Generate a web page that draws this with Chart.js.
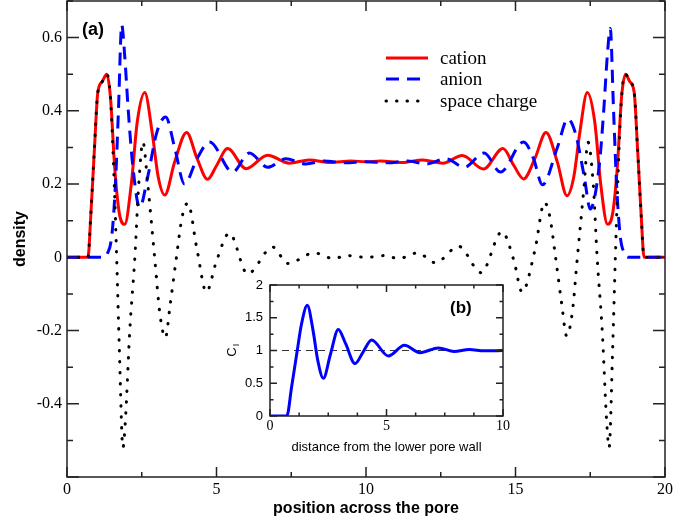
<!DOCTYPE html>
<html lang="en">
<head>
<meta charset="UTF-8" />
<title>Ion densities across the pore</title>
<style>
  body { margin: 0; background: #fff; }
  #wrap { position: relative; width: 673px; height: 525px; }
  #main { position: absolute; left: 0; top: 0; }
  #inset { position: absolute; left: 215px; top: 278px; }
</style>
</head>
<body>
<div id="wrap">
  <canvas id="main" width="673" height="525"></canvas>
  <canvas id="inset" width="300" height="182"></canvas>
</div>

<script src="https://cdn.jsdelivr.net/npm/chart.js"></script>
<script>
// panel (a): densities across the pore
const cationX = [0, 0.7, 0.8, 0.92, 1.03, 1.18, 1.33, 1.45, 1.6, 1.75, 1.93, 2.15, 2.35, 2.6, 2.85, 3.05, 3.27, 3.6, 4.0, 4.35, 4.7, 5.0, 5.37, 5.99, 6.71, 7.43, 8.1, 8.8, 9.5, 10,
                 10.5, 11.2, 11.9, 12.57, 13.22, 13.93, 14.58, 14.95, 15.27, 15.65, 16.02, 16.4, 16.72, 16.95, 17.15, 17.4, 17.65, 17.85, 18.08, 18.25, 18.4, 18.55, 18.68, 18.82, 18.97, 19.08, 19.2, 19.3, 20];
const cationY = [0, 0, 0.12, 0.3, 0.45, 0.48, 0.5, 0.44, 0.24, 0.12, 0.09, 0.2, 0.37, 0.45, 0.34, 0.22, 0.17, 0.26, 0.341, 0.27, 0.213, 0.25, 0.297, 0.242, 0.279, 0.257, 0.266, 0.259, 0.263, 0.261,
                 0.263, 0.259, 0.266, 0.257, 0.278, 0.241, 0.297, 0.25, 0.214, 0.27, 0.341, 0.26, 0.168, 0.22, 0.34, 0.45, 0.37, 0.2, 0.09, 0.12, 0.24, 0.44, 0.5, 0.48, 0.45, 0.3, 0.12, 0, 0];

const anionX = [0, 1.2, 1.35, 1.5, 1.62, 1.72, 1.83, 1.93, 2.05, 2.2, 2.43, 2.7, 3.0, 3.3, 3.6, 3.93, 4.35, 4.77, 5.54, 6.1, 6.71, 7.32, 7.99, 8.6, 9.3, 10,
                10.7, 11.4, 12.01, 12.68, 13.29, 13.95, 14.5, 15.27, 15.6, 15.9, 16.4, 16.75, 17.0, 17.3, 17.5, 17.8, 17.95, 18.07, 18.17, 18.28, 18.38, 18.5, 18.65, 18.8, 20];
const anionY = [0, 0, 0.01, 0.06, 0.2, 0.4, 0.635, 0.55, 0.4, 0.25, 0.136, 0.22, 0.34, 0.383, 0.3, 0.2, 0.27, 0.315, 0.233, 0.285, 0.246, 0.269, 0.255, 0.263, 0.258, 0.261,
                0.258, 0.263, 0.255, 0.269, 0.246, 0.285, 0.233, 0.315, 0.27, 0.198, 0.3, 0.378, 0.34, 0.22, 0.132, 0.25, 0.4, 0.55, 0.625, 0.4, 0.2, 0.06, 0.01, 0, 0];

const chargeX = [0, 0.7, 0.8, 0.92, 1.03, 1.18, 1.33, 1.45, 1.58, 1.66, 1.75, 1.87, 1.95, 2.1, 2.27, 2.4, 2.54, 2.7, 2.93, 3.1, 3.29, 3.45, 3.66, 3.85, 4.04, 4.35, 4.66, 5.0, 5.43, 6.04, 6.88, 7.38, 8.27, 8.93, 9.32, 10,
                 10.68, 11.07, 11.73, 12.32, 13.1, 13.85, 14.55, 14.95, 15.22, 15.65, 15.97, 16.15, 16.34, 16.55, 16.71, 16.9, 17.07, 17.3, 17.42, 17.6, 17.73, 17.9, 18.05, 18.13, 18.25, 18.34, 18.42, 18.55, 18.68, 18.82, 18.97, 19.08, 19.2, 19.3, 20];
const chargeY = [0, 0, 0.12, 0.3, 0.45, 0.48, 0.5, 0.44, 0.2, 0.0, -0.25, -0.52, -0.45, -0.2, 0.0, 0.2, 0.315, 0.2, 0.0, -0.15, -0.22, -0.13, 0.0, 0.11, 0.148, 0.02, -0.095, -0.01, 0.066, -0.045, 0.028, -0.017, 0.012, -0.004, 0.005, 0,
                 0.005, -0.004, 0.012, -0.015, 0.03, -0.042, 0.07, -0.01, -0.095, 0.02, 0.15, 0.11, 0.0, -0.13, -0.215, -0.15, 0.0, 0.2, 0.315, 0.2, 0.0, -0.2, -0.45, -0.52, -0.25, 0.0, 0.2, 0.44, 0.5, 0.48, 0.45, 0.3, 0.12, 0, 0];

// panel (b): C_I vs distance from the lower wall
const ciX = [0, 0.72, 0.93, 1.17, 1.35, 1.6, 1.85, 2.05, 2.29, 2.6, 2.93, 3.25, 3.65, 4.0, 4.36, 5.08, 5.77, 6.44, 7.23, 7.9, 8.55, 9.2, 10];
const ciY = [0, 0, 0.45, 1.0, 1.4, 1.69, 1.3, 0.85, 0.575, 0.95, 1.32, 1.1, 0.8, 0.98, 1.16, 0.916, 1.08, 0.967, 1.04, 0.985, 1.015, 0.995, 1.0];
const refX = [0, 10];
const refY = [1, 1];

const pts = (xs, ys) => xs.map((x, i) => ({ x, y: ys[i] }));

const serif = 'Liberation Serif';
const sans = 'Liberation Sans';

// box around the plot with inward ticks on all four sides
function frameTicks(id, xs, ys) {
  return {
    id,
    afterDatasetsDraw(chart) {
      const { ctx, chartArea: a, scales: { x, y } } = chart;
      ctx.save();
      ctx.strokeStyle = '#222';
      ctx.lineWidth = 1.5;
      ctx.strokeRect(a.left, a.top, a.right - a.left, a.bottom - a.top);
      ctx.beginPath();
      let n = Math.round((x.max - x.min) / xs.minor);
      for (let i = 0; i <= n; i++) {
        const v = x.min + i * xs.minor;
        const px = x.getPixelForValue(v);
        const len = Math.abs(v / xs.major - Math.round(v / xs.major)) < 1e-6 ? xs.len : xs.len / 2;
        ctx.moveTo(px, a.bottom); ctx.lineTo(px, a.bottom - len);
        ctx.moveTo(px, a.top); ctx.lineTo(px, a.top + len);
      }
      n = Math.round((y.max - y.min) / ys.minor);
      for (let i = 0; i <= n; i++) {
        const v = y.min + i * ys.minor;
        const py = y.getPixelForValue(v);
        const len = Math.abs(v / ys.major - Math.round(v / ys.major)) < 1e-6 ? ys.len : ys.len / 2;
        ctx.moveTo(a.left, py); ctx.lineTo(a.left + len, py);
        ctx.moveTo(a.right, py); ctx.lineTo(a.right - len, py);
      }
      ctx.stroke();
      ctx.restore();
    }
  };
}

const labelsA = {
  id: 'labelsA',
  afterDraw(chart) {
    const ctx = chart.ctx;
    ctx.save();
    ctx.fillStyle = '#000';
    ctx.font = 'bold 18px ' + sans;
    ctx.textBaseline = 'middle';
    ctx.fillText('(a)', 82, 30);

    // legend
    const rows = [
      { y: 58, label: 'cation', color: '#ff0000', dash: [], cap: 'butt' },
      { y: 79, label: 'anion', color: '#0000ff', dash: [13, 8], cap: 'butt' },
      { y: 101, label: 'space charge', color: '#000', dash: [0.5, 10], cap: 'round' }
    ];
    rows.forEach(r => {
      ctx.beginPath();
      ctx.strokeStyle = r.color;
      ctx.lineWidth = 3;
      ctx.setLineDash(r.dash);
      ctx.lineCap = r.cap;
      ctx.moveTo(386, r.y);
      ctx.lineTo(428, r.y);
      ctx.stroke();
      ctx.font = '19px ' + serif;
      ctx.fillText(r.label, 440, r.y + 1);
    });
    ctx.restore();
  }
};

const labelsB = {
  id: 'labelsB',
  afterDraw(chart) {
    const ctx = chart.ctx;
    ctx.save();
    ctx.fillStyle = '#000';
    ctx.font = 'bold 17px ' + sans;
    ctx.textBaseline = 'middle';
    ctx.fillText('(b)', 235, 30);

    ctx.translate(17, 72);
    ctx.rotate(-Math.PI / 2);
    ctx.textAlign = 'center';
    ctx.font = '13px ' + sans;
    ctx.fillText('C', -2, 0);
    ctx.font = '9px ' + sans;
    ctx.fillText('I', 5, 5);
    ctx.restore();
  }
};

function fmt(v, hide) {
  if (hide.some(h => Math.abs(v - h) < 1e-9)) return '';
  if (Math.abs(v) < 1e-9) return '0';
  return String(Math.round(v * 10) / 10);
}

// keep the plot box where the figure has it, no extra room for edge labels
function noEdgePad(s) {
  s.paddingLeft = 0; s.paddingRight = 0; s.paddingTop = 0; s.paddingBottom = 0;
}

new Chart(document.getElementById('main'), {
  type: 'scatter',
  data: {
    datasets: [
      {
        label: 'space charge',
        data: pts(chargeX, chargeY),
        showLine: true, pointRadius: 0,
        borderColor: '#000', borderWidth: 3,
        borderDash: [0.5, 10.5], borderCapStyle: 'round',
        cubicInterpolationMode: 'monotone'
      },
      {
        label: 'anion',
        data: pts(anionX, anionY),
        showLine: true, pointRadius: 0,
        borderColor: '#0000ff', borderWidth: 3,
        borderDash: [13, 8],
        cubicInterpolationMode: 'monotone'
      },
      {
        label: 'cation',
        data: pts(cationX, cationY),
        showLine: true, pointRadius: 0,
        borderColor: '#ff0000', borderWidth: 3,
        cubicInterpolationMode: 'monotone'
      }
    ]
  },
  options: {
    responsive: false,
    animation: false,
    layout: { padding: { top: 1, right: 8, left: 0, bottom: 0 } },
    plugins: { legend: { display: false }, tooltip: { enabled: false } },
    scales: {
      x: {
        type: 'linear', min: 0, max: 20,
        grid: { display: false, drawTicks: false },
        border: { display: false },
        ticks: { stepSize: 5, padding: 3, color: '#000', font: { family: serif, size: 16 } },
        title: { display: true, text: 'position across the pore', color: '#000',
                 font: { family: sans, size: 16, weight: 'bold' }, padding: { top: 0, bottom: 7 } },
        afterFit: s => { s.height = 48; noEdgePad(s); }
      },
      y: {
        type: 'linear', min: -0.6, max: 0.7,
        grid: { display: false, drawTicks: false },
        border: { display: false },
        ticks: { stepSize: 0.2, padding: 5, color: '#000', font: { family: serif, size: 16 },
                 callback: v => fmt(v, [-0.6, 0.7]) },
        title: { display: true, text: 'density', color: '#000',
                 font: { family: sans, size: 16, weight: 'bold' }, padding: { top: 11, bottom: 0 } },
        afterFit: s => { s.width = 67; noEdgePad(s); }
      }
    }
  },
  plugins: [frameTicks('frameA', { minor: 2.5, major: 5, len: 10 }, { minor: 0.1, major: 0.2, len: 12 }), labelsA]
});

new Chart(document.getElementById('inset'), {
  type: 'scatter',
  data: {
    datasets: [
      {
        label: 'C_I',
        data: pts(ciX, ciY),
        showLine: true, pointRadius: 0,
        borderColor: '#0000ff', borderWidth: 3,
        cubicInterpolationMode: 'monotone'
      },
      {
        label: 'bulk',
        data: pts(refX, refY),
        showLine: true, pointRadius: 0,
        borderColor: '#333', borderWidth: 1.2,
        borderDash: [7, 5]
      }
    ]
  },
  options: {
    responsive: false,
    animation: false,
    layout: { padding: { top: 7, right: 12, left: 0, bottom: 0 } },
    plugins: { legend: { display: false }, tooltip: { enabled: false } },
    scales: {
      x: {
        type: 'linear', min: 0, max: 10,
        grid: { display: false, drawTicks: false },
        border: { display: false },
        ticks: { stepSize: 5, padding: 2, color: '#000', font: { family: serif, size: 14 } },
        title: { display: true, text: 'distance from the lower pore wall', color: '#000',
                 font: { family: sans, size: 13 }, padding: { top: 0, bottom: 5 } },
        afterFit: s => { s.height = 44; noEdgePad(s); }
      },
      y: {
        type: 'linear', min: 0, max: 2,
        grid: { display: false, drawTicks: false },
        border: { display: false },
        ticks: { stepSize: 0.5, padding: 7, color: '#000', font: { family: sans, size: 13 },
                 callback: v => String(v) },
        afterFit: s => { s.width = 55; noEdgePad(s); }
      }
    }
  },
  plugins: [frameTicks('frameB', { minor: 1.25, major: 5, len: 7 }, { minor: 0.25, major: 0.5, len: 7 }), labelsB]
});
</script>
</body>
</html>
